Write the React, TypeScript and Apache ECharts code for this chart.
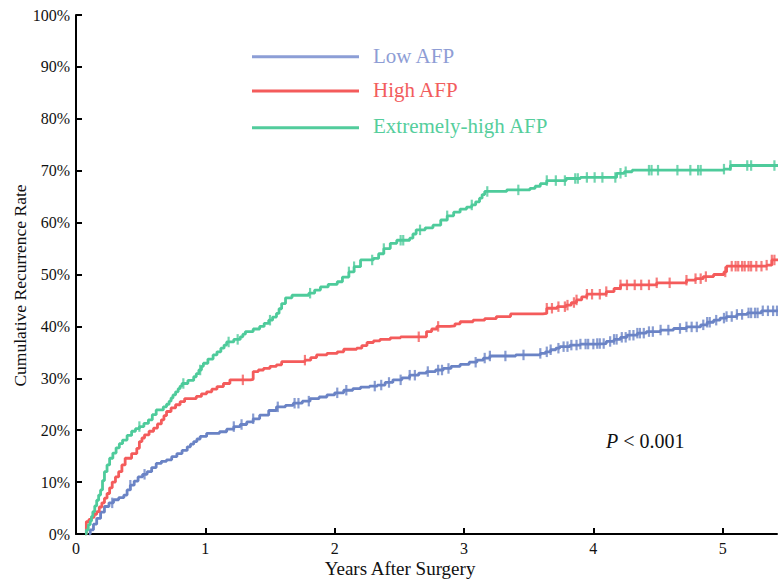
import React, { useEffect, useRef } from "react";
import * as echarts from "echarts";

// ---- Data (years after surgery, cumulative recurrence %) ----
const lowAFP: [number, number][] = [
  [0.1, 0], [0.11, 0.8], [0.135, 1.9], [0.16, 3], [0.19, 4.2], [0.22, 5.3], [0.255, 6], [0.29, 6.6],
  [0.33, 7], [0.37, 7.5], [0.395, 8.5], [0.42, 9.4], [0.45, 10.2], [0.48, 11], [0.515, 11.5],
  [0.55, 12], [0.585, 12.8], [0.62, 13.6], [0.66, 14], [0.7, 14.3], [0.74, 14.9], [0.78, 15.5],
  [0.82, 16.1], [0.86, 16.8], [0.885, 17.3], [0.91, 17.8], [0.935, 18.3], [0.96, 18.8], [1.01, 19.4],
  [1.11, 19.7], [1.165, 20.2], [1.22, 20.7], [1.27, 21.1], [1.32, 21.6], [1.37, 22.2], [1.42, 22.9],
  [1.49, 23.8], [1.55, 24.5], [1.62, 24.8], [1.68, 25.2], [1.75, 25.6], [1.81, 26.1], [1.88, 26.4],
  [1.94, 26.8], [2.0, 27.2], [2.07, 27.7], [2.14, 28], [2.2, 28.3], [2.27, 28.5], [2.33, 28.7],
  [2.39, 29.2], [2.45, 29.7], [2.52, 30.1], [2.58, 30.6], [2.65, 31], [2.71, 31.3], [2.78, 31.6],
  [2.84, 31.9], [2.9, 32.3], [2.97, 32.7], [3.04, 33.1], [3.1, 33.5], [3.15, 33.9], [3.2, 34.3],
  [3.4, 34.5], [3.59, 34.8], [3.63, 35.1], [3.67, 35.5], [3.71, 35.8], [3.74, 36.1], [3.82, 36.4],
  [3.9, 36.6], [4.03, 36.7], [4.1, 37.1], [4.16, 37.5], [4.21, 37.9], [4.26, 38.3], [4.34, 38.7],
  [4.41, 39], [4.52, 39.3], [4.62, 39.6], [4.72, 39.9], [4.83, 40.3], [4.88, 40.8], [4.93, 41.2],
  [4.98, 41.6], [5.03, 41.9], [5.11, 42.3], [5.19, 42.6], [5.3, 43], [5.43, 43],
];
const highAFP: [number, number][] = [
  [0.07, 0], [0.08, 2.4], [0.1, 2.8], [0.12, 3.2], [0.14, 3.8], [0.16, 4.3], [0.18, 5.2], [0.2, 6],
  [0.22, 6.9], [0.24, 7.8], [0.26, 8.9], [0.28, 10], [0.305, 11], [0.33, 12], [0.355, 13.3],
  [0.38, 14.6], [0.43, 15.5], [0.47, 16.5], [0.49, 17.8], [0.51, 18.5], [0.53, 19.1], [0.565, 19.8],
  [0.6, 20.4], [0.63, 21.2], [0.66, 22], [0.68, 22.8], [0.7, 23.6], [0.735, 24.3], [0.77, 24.9],
  [0.805, 25.5], [0.84, 26.1], [0.93, 26.5], [0.97, 27], [1.01, 27.4], [1.05, 27.9], [1.09, 28.4],
  [1.14, 29], [1.19, 29.7], [1.35, 29.8], [1.37, 31.3], [1.41, 31.6], [1.45, 31.9], [1.5, 32.3],
  [1.55, 32.6], [1.59, 33.2], [1.77, 33.5], [1.815, 34], [1.86, 34.5], [1.94, 34.8], [2.02, 35.1],
  [2.07, 35.6], [2.17, 35.8], [2.21, 36.3], [2.25, 36.9], [2.3, 37.2], [2.35, 37.5], [2.43, 37.8],
  [2.51, 38], [2.66, 38], [2.71, 39], [2.75, 39.5], [2.79, 40], [2.89, 40.1], [2.93, 40.5],
  [2.97, 40.9], [3.07, 41.2], [3.16, 41.5], [3.25, 41.9], [3.36, 42.4], [3.61, 42.5], [3.64, 43.5],
  [3.72, 43.8], [3.79, 44.1], [3.83, 44.6], [3.87, 45.1], [3.91, 45.7], [3.95, 46.2], [4.1, 46.7],
  [4.16, 47.3], [4.21, 48], [4.49, 48.4], [4.72, 48.9], [4.79, 49.2], [4.85, 49.6], [4.93, 50],
  [5.01, 50.5], [5.03, 51.6], [5.34, 51.8], [5.38, 52.8], [5.43, 52.8],
];
const extremeAFP: [number, number][] = [
  [0.07, 0], [0.08, 0.8], [0.095, 1.8], [0.11, 2.5], [0.12, 3.4], [0.13, 4.3], [0.145, 5.4],
  [0.16, 6.5], [0.175, 7.5], [0.19, 8.5], [0.205, 10.3], [0.22, 12], [0.24, 13.3], [0.26, 14.6],
  [0.285, 15.6], [0.31, 16.6], [0.335, 17.4], [0.36, 18.1], [0.395, 19], [0.43, 19.8], [0.46, 20.3],
  [0.49, 20.7], [0.525, 21.3], [0.56, 22], [0.59, 23], [0.62, 23.9], [0.675, 24.5], [0.7, 25],
  [0.72, 25.6], [0.735, 26.2], [0.75, 26.8], [0.77, 27.4], [0.79, 28], [0.805, 28.5], [0.82, 29],
  [0.865, 29.6], [0.91, 30.3], [0.93, 30.9], [0.95, 31.6], [0.97, 32.3], [0.985, 32.9], [1.02, 33.7],
  [1.06, 34.5], [1.09, 35.1], [1.12, 35.8], [1.145, 36.4], [1.165, 37], [1.22, 37.5], [1.27, 38],
  [1.29, 38.5], [1.31, 39], [1.37, 39.5], [1.42, 40], [1.455, 40.6], [1.49, 41.2], [1.52, 41.8],
  [1.55, 42.5], [1.57, 43.4], [1.59, 44.4], [1.62, 45.5], [1.67, 46], [1.8, 46.4], [1.845, 47],
  [1.89, 47.6], [1.95, 48.1], [2.02, 48.6], [2.06, 49.5], [2.11, 50.5], [2.15, 51.5], [2.2, 52.8],
  [2.3, 53.1], [2.34, 54], [2.38, 55], [2.43, 56], [2.48, 56.6], [2.58, 57], [2.605, 57.8],
  [2.63, 58.6], [2.7, 59], [2.76, 59.5], [2.82, 60.5], [2.87, 61.3], [2.92, 62], [2.97, 62.6],
  [3.02, 63], [3.06, 63.4], [3.09, 64], [3.12, 64.7], [3.14, 65.4], [3.16, 66], [3.33, 66.3],
  [3.51, 66.6], [3.55, 67], [3.59, 67.5], [3.64, 68.1], [3.79, 68.5], [3.9, 68.7], [4.1, 68.7],
  [4.18, 69.5], [4.24, 69.8], [4.3, 70.1], [5.01, 70.3], [5.06, 71], [5.43, 71],
];

// Censoring times (years)
const lowCensor = [
  0.28, 0.42, 0.53, 1.22, 1.28, 1.37, 1.56, 1.69, 1.72, 1.8, 2.02, 2.09, 2.31, 2.36, 2.42, 2.51, 2.58,
  2.62, 2.72, 2.8, 2.83, 2.88, 3.09, 3.16, 3.2, 3.32, 3.46, 3.59, 3.64, 3.67, 3.73, 3.77, 3.8, 3.83,
  3.87, 3.9, 3.94, 3.96, 4.0, 4.03, 4.05, 4.08, 4.13, 4.16, 4.18, 4.22, 4.25, 4.28, 4.31, 4.34, 4.36,
  4.39, 4.43, 4.46, 4.52, 4.58, 4.67, 4.72, 4.76, 4.8, 4.85, 4.88, 4.9, 4.95, 5.01, 5.03, 5.07, 5.11,
  5.15, 5.2, 5.22, 5.25, 5.27, 5.31, 5.35, 5.39, 5.42,
];
const highCensor = [
  1.29, 1.77, 2.65, 2.8, 3.64, 3.68, 3.73, 3.78, 3.8, 3.85, 3.87, 3.95, 3.99, 4.05, 4.1, 4.21, 4.26,
  4.32, 4.37, 4.43, 4.49, 4.59, 4.72, 4.79, 4.83, 4.87, 5.02, 5.07, 5.1, 5.12, 5.15, 5.17, 5.2, 5.22,
  5.26, 5.3, 5.34, 5.38, 5.4,
];
const extremeCensor = [
  0.49, 0.83, 0.96, 1.18, 1.25, 1.5, 1.81, 2.11, 2.15, 2.29, 2.38, 2.51, 2.53, 2.66, 2.87, 3.06, 3.18,
  3.42, 3.64, 3.71, 3.78, 3.86, 3.88, 3.95, 4.01, 4.07, 4.17, 4.21, 4.25, 4.43, 4.45, 4.5, 4.65, 4.75,
  4.81, 4.83, 5.01, 5.06, 5.19, 5.22, 5.4,
];

const seriesNames = ["Low AFP", "High AFP", "Extremely-high AFP"];
const lineColors = ["#6A83C5", "#F45B5B", "#4ECB9B"];
const legendLineColors = ["#8C9ED6", "#F45B5B", "#52CC9C"];
const legendTextColors = ["#8E9DD5", "#F25D5D", "#55CE9C"];
const X_MAX = 5.42;

const FONT = "'Liberation Serif', 'Times New Roman', Times, serif";

function stepValue(curve: [number, number][], t: number): number {
  let v = curve[0][1];
  for (const [x, y] of curve) {
    if (x <= t) v = y;
    else break;
  }
  return v;
}

export default function App() {
  const ref = useRef<HTMLDivElement>(null);
  useEffect(() => {
    if (!ref.current) return;
    const chart = echarts.init(ref.current, null, { renderer: "svg" });
    const curves = [lowAFP, highAFP, extremeAFP];
    const censors = [lowCensor, highCensor, extremeCensor];

    const series: any[] = [];
    curves.forEach((c, i) => {
      series.push({
        name: seriesNames[i],
        type: "line",
        step: "end",
        data: c,
        showSymbol: false,
        lineStyle: { color: lineColors[i], width: 2.8 },
        z: 2,
      });
    });
    censors.forEach((cs, i) => {
      series.push({
        name: seriesNames[i] + " censored",
        type: "scatter",
        data: cs.map((t) => [t, stepValue(curves[i], t)]),
        symbol: "rect",
        symbolSize: [2.2, 10.5],
        itemStyle: { color: lineColors[i] },
        z: 3,
      });
    });

    const graphic: any[] = [];
    const legendY = [56.7, 91, 127.7];
    const legendTextY = [55.6, 89.6, 126.2];
    seriesNames.forEach((n, i) => {
      graphic.push({
        type: "line",
        shape: { x1: 252, y1: legendY[i], x2: 359, y2: legendY[i] },
        style: { stroke: legendLineColors[i], lineWidth: 3 },
      });
      graphic.push({
        type: "text",
        x: 373,
        y: legendTextY[i],
        style: {
          text: n,
          font: `21px ${FONT}`,
          fill: legendTextColors[i],
          align: "left",
          verticalAlign: "middle",
        },
      });
    });
    graphic.push({
      type: "text",
      x: 606,
      y: 441,
      style: {
        text: "{i|P} < 0.001",
        font: `20px ${FONT}`,
        fill: "#111",
        align: "left",
        verticalAlign: "middle",
        rich: {
          i: { fontStyle: "italic", fontFamily: FONT, fontSize: 20, fill: "#111" },
        },
      },
    });
    graphic.push({
      type: "text",
      x: 400,
      y: 568,
      style: {
        text: "Years After Surgery",
        font: `19px ${FONT}`,
        fill: "#111",
        align: "center",
        verticalAlign: "middle",
      },
    });
    graphic.push({
      type: "text",
      x: 20,
      y: 285.5,
      rotation: Math.PI / 2,
      style: {
        text: "Cumulative Recurrence Rate",
        font: `17.5px ${FONT}`,
        fill: "#111",
        align: "center",
        verticalAlign: "middle",
      },
    });

    chart.setOption({
      animation: false,
      backgroundColor: "#fff",
      grid: { left: 76, top: 15, right: 1, bottom: 49, containLabel: false },
      xAxis: {
        type: "value",
        min: 0,
        max: X_MAX,
        interval: 1,
        axisLine: { show: true, lineStyle: { color: "#000", width: 2 } },
        axisTick: {
          show: true,
          inside: true,
          length: 6,
          lineStyle: { color: "#000", width: 2 },
        },
        axisLabel: {
          margin: 6,
          fontFamily: FONT,
          fontSize: 16,
          color: "#111",
          showMaxLabel: false,
        },
        splitLine: { show: false },
      },
      yAxis: {
        type: "value",
        min: 0,
        max: 100,
        interval: 10,
        axisLine: { show: true, lineStyle: { color: "#000", width: 2 } },
        axisTick: { show: true, inside: true, length: 6, lineStyle: { color: "#000", width: 2 } },
        axisLabel: {
          margin: 6,
          fontFamily: FONT,
          fontSize: 16,
          color: "#111",
          formatter: "{value}%",
        },
        splitLine: { show: false },
      },
      graphic,
      series,
    });
    return () => chart.dispose();
  }, []);
  return <div ref={ref} style={{ width: 778, height: 583, position: "absolute", left: 0, top: 0 }} />;
}
